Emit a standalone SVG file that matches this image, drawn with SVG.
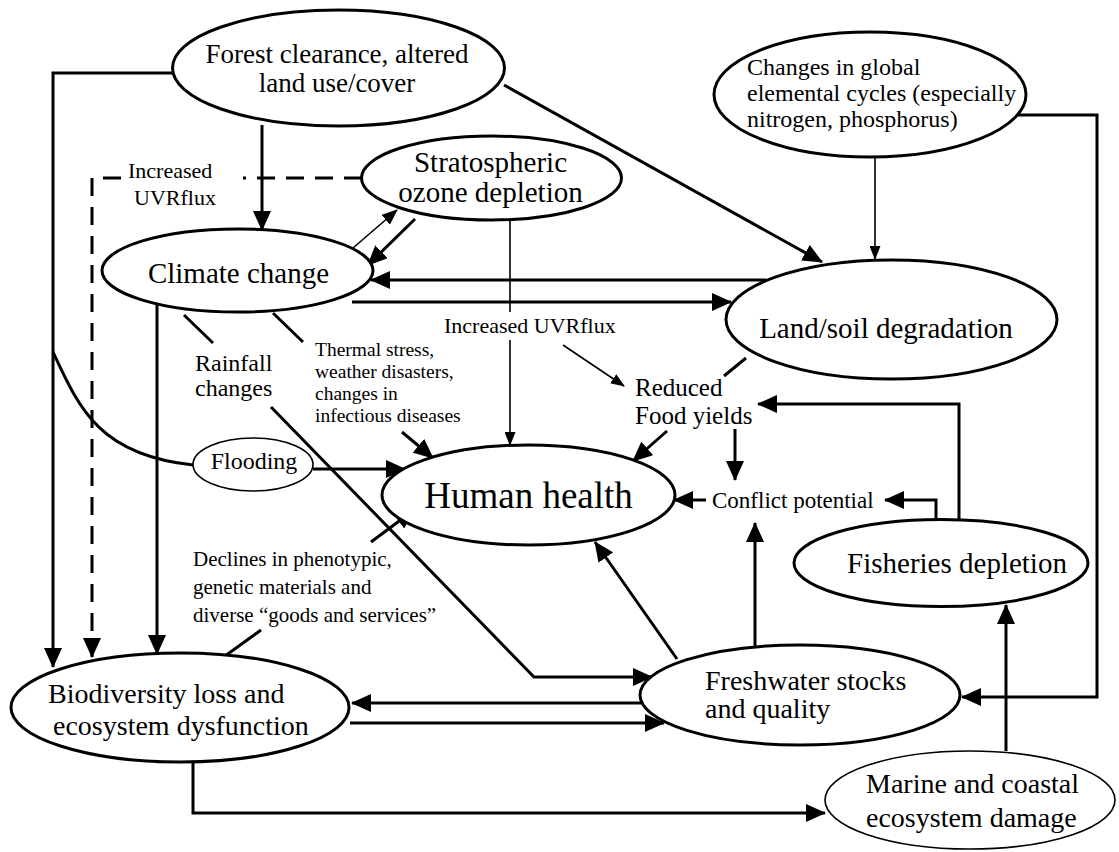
<svg xmlns="http://www.w3.org/2000/svg" width="1119" height="852" viewBox="0 0 1119 852">
<defs>
<style>
text{font-family:"Liberation Serif","Times New Roman",serif;fill:#000}
.n{fill:#fff;stroke:#000;stroke-width:3}
.nt{fill:#fff;stroke:#000;stroke-width:1.6}
.c{fill:none;stroke:#000;stroke-width:3}
.ct{fill:none;stroke:#000;stroke-width:1.6}
.d{fill:none;stroke:#000;stroke-width:3;stroke-dasharray:18 11}
</style>
<marker id="ab" markerWidth="20" markerHeight="18" refX="19" refY="9" orient="auto" markerUnits="userSpaceOnUse"><path d="M0,0 L20,9 L0,18 z" fill="#000"/></marker>
<marker id="am" markerWidth="16" markerHeight="13" refX="15" refY="6.5" orient="auto" markerUnits="userSpaceOnUse"><path d="M0,0 L16,6.5 L0,13 z" fill="#000"/></marker>
<marker id="as" markerWidth="14" markerHeight="11" refX="13" refY="5.5" orient="auto" markerUnits="userSpaceOnUse"><path d="M0,0 L14,5.5 L0,11 z" fill="#000"/></marker>
</defs>
<rect width="1119" height="852" fill="#fff"/>

<g id="connectors">
<polyline class="c" points="173,73 53,73 53,667" marker-end="url(#ab)"/>
<path class="c" d="M53,352 C80,410 100,455 193,465"/>
<line class="c" x1="262" y1="125" x2="262" y2="230" marker-end="url(#ab)"/>
<line class="c" x1="504" y1="85" x2="822" y2="262" marker-end="url(#ab)"/>
<line class="d" x1="362" y1="178" x2="243" y2="178"/>
<polyline class="d" points="121,178 92,178 92,657" marker-end="url(#ab)"/>
<line class="ct" x1="353" y1="248" x2="397" y2="210" marker-end="url(#am)"/>
<line class="c" x1="415" y1="219" x2="368" y2="265" marker-end="url(#ab)"/>
<line class="c" x1="766" y1="280" x2="371" y2="280" marker-end="url(#ab)"/>
<line class="c" x1="352" y1="302" x2="731" y2="302" marker-end="url(#ab)"/>
<line class="ct" x1="510" y1="220" x2="510" y2="312"/>
<line class="ct" x1="510" y1="340" x2="510" y2="445" marker-end="url(#as)"/>
<line class="ct" x1="563" y1="345" x2="624" y2="386" marker-end="url(#as)"/>
<line class="ct" x1="875" y1="157" x2="875" y2="259" marker-end="url(#as)"/>
<polyline class="c" points="1017,115 1097,115 1097,697 962,697" marker-end="url(#ab)"/>
<line class="c" x1="184" y1="315" x2="213" y2="343"/>
<line class="c" x1="273" y1="313" x2="303" y2="342"/>
<polyline class="c" points="271,407 534,677 652,677" marker-end="url(#ab)"/>
<line class="c" x1="157" y1="303" x2="157" y2="654" marker-end="url(#ab)"/>
<line class="c" x1="402" y1="432" x2="433" y2="458" marker-end="url(#ab)"/>
<line class="c" x1="313" y1="469" x2="405" y2="469" marker-end="url(#ab)"/>
<line class="c" x1="371" y1="542" x2="414" y2="510" marker-end="url(#ab)"/>
<line class="c" x1="261" y1="630" x2="225" y2="656"/>
<line class="c" x1="746" y1="358" x2="724" y2="376"/>
<line class="c" x1="667" y1="431" x2="633" y2="461" marker-end="url(#ab)"/>
<line class="c" x1="735" y1="429" x2="735" y2="480" marker-end="url(#ab)"/>
<line class="c" x1="706" y1="500" x2="674" y2="500" marker-end="url(#ab)"/>
<polyline class="c" points="936,520 936,500 885,500" marker-end="url(#ab)"/>
<polyline class="c" points="959,520 959,404 758,404" marker-end="url(#ab)"/>
<line class="c" x1="755" y1="647" x2="755" y2="523" marker-end="url(#ab)"/>
<line class="c" x1="677" y1="659" x2="595" y2="542" marker-end="url(#ab)"/>
<line class="c" x1="641" y1="703" x2="352" y2="703" marker-end="url(#ab)"/>
<line class="c" x1="350" y1="723" x2="664" y2="723" marker-end="url(#ab)"/>
<polyline class="c" points="193,762 193,813 825,813" marker-end="url(#ab)"/>
<line class="c" x1="1006" y1="751" x2="1006" y2="605" marker-end="url(#ab)"/>
</g>

<g id="forest">
<ellipse class="n" cx="338.5" cy="68" rx="166" ry="58"/>
<text x="337" y="63" font-size="27" text-anchor="middle">Forest clearance, altered</text>
<text x="337" y="92" font-size="27" text-anchor="middle">land use/cover</text>
</g>
<g id="changes">
<ellipse class="n" cx="870" cy="94.5" rx="156" ry="62.5"/>
<text x="747" y="75" font-size="24">Changes in global</text>
<text x="747" y="101" font-size="24">elemental cycles (especially</text>
<text x="747" y="127" font-size="24">nitrogen, phosphorus)</text>
</g>
<g id="ozone">
<ellipse class="n" cx="491.5" cy="178" rx="130" ry="42"/>
<text x="490.5" y="172" font-size="29" text-anchor="middle">Stratospheric</text>
<text x="490.5" y="202" font-size="29" text-anchor="middle">ozone depletion</text>
</g>
<g id="climate">
<ellipse class="n" cx="237.5" cy="270.5" rx="135.5" ry="41.5"/>
<text x="238.5" y="283" font-size="29" text-anchor="middle">Climate change</text>
</g>
<g id="land">
<ellipse class="n" cx="891.5" cy="319.5" rx="165.5" ry="59.5"/>
<text x="886" y="338" font-size="29" text-anchor="middle">Land/soil degradation</text>
</g>
<g id="human">
<ellipse class="n" cx="528.5" cy="495" rx="146.5" ry="50"/>
<text x="528.5" y="508" font-size="37" text-anchor="middle">Human health</text>
</g>
<g id="flooding">
<ellipse class="nt" cx="253" cy="464.5" rx="60" ry="26.5"/>
<text x="254" y="469" font-size="24" text-anchor="middle">Flooding</text>
</g>
<g id="fisheries">
<ellipse class="n" cx="941" cy="563" rx="147" ry="43.5"/>
<text x="957" y="573" font-size="29" text-anchor="middle">Fisheries depletion</text>
</g>
<g id="freshwater">
<ellipse class="n" cx="800" cy="695" rx="160" ry="50"/>
<text x="705" y="690" font-size="28">Freshwater stocks</text>
<text x="705" y="718" font-size="28">and quality</text>
</g>
<g id="biodiversity">
<ellipse class="n" cx="180" cy="707.5" rx="169" ry="54.5"/>
<text x="48" y="703" font-size="28">Biodiversity loss and</text>
<text x="53" y="735" font-size="28">ecosystem dysfunction</text>
</g>
<g id="marine">
<ellipse class="nt" cx="970" cy="800" rx="145" ry="49"/>
<text x="866" y="793" font-size="28">Marine and coastal</text>
<text x="866" y="827" font-size="28">ecosystem damage</text>
</g>
<g id="food">
<text x="635" y="396" font-size="25">Reduced</text>
<text x="635" y="424" font-size="25">Food yields</text>
</g>
<g id="conflict">
<text x="712" y="508" font-size="23">Conflict potential</text>
</g>
<g id="labels">
<text x="128" y="178" font-size="22">Increased</text>
<text x="134" y="205" font-size="22">UVRflux</text>
<text x="444" y="333" font-size="22">Increased UVRflux</text>
<text x="195" y="371" font-size="24">Rainfall</text>
<text x="195" y="396" font-size="24">changes</text>
<text x="315" y="356" font-size="19.5">Thermal stress,</text>
<text x="315" y="378" font-size="19.5">weather disasters,</text>
<text x="315" y="400" font-size="19.5">changes in</text>
<text x="315" y="422" font-size="19.5">infectious diseases</text>
<text x="193" y="566" font-size="21">Declines in phenotypic,</text>
<text x="193" y="594" font-size="21">genetic materials and</text>
<text x="193" y="622" font-size="21">diverse “goods and services”</text>
</g>
</svg>
